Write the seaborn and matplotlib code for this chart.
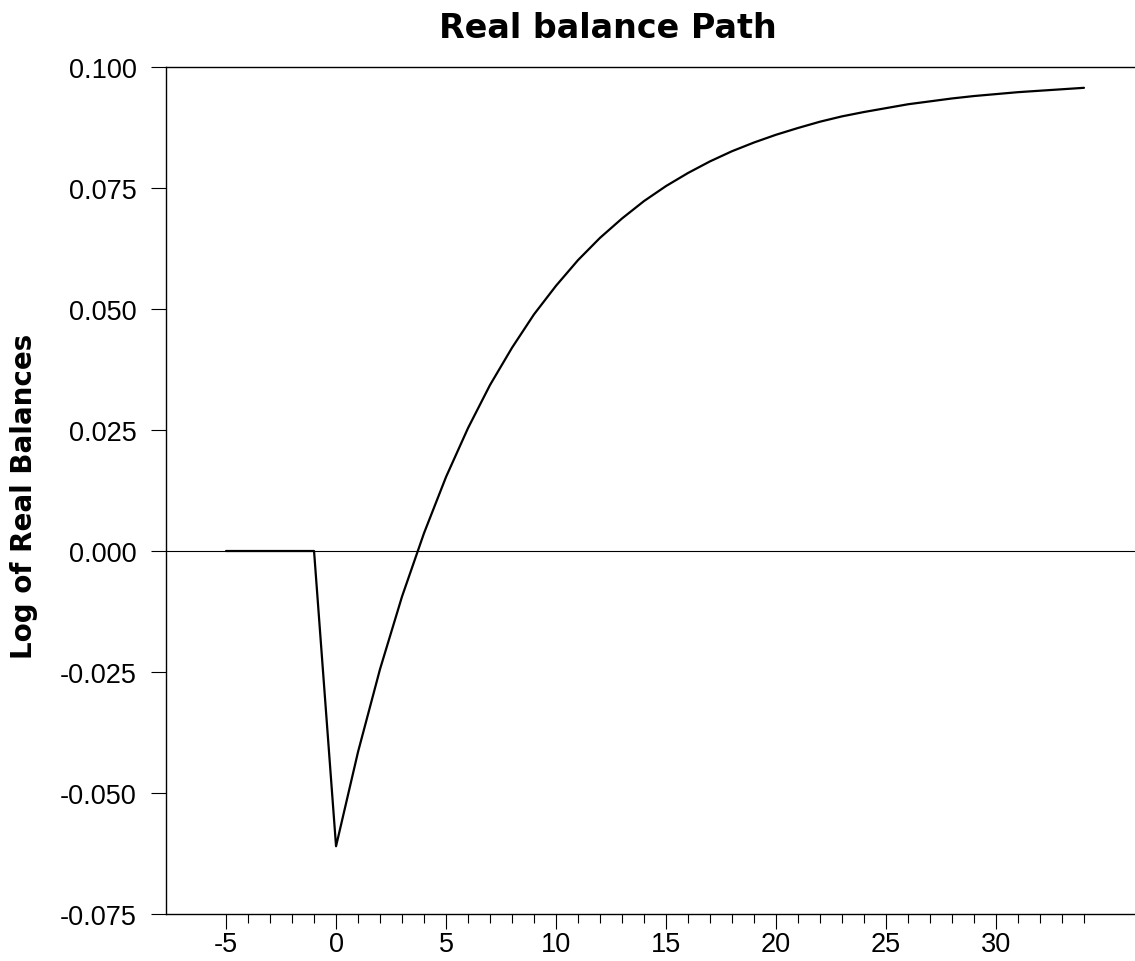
import matplotlib
matplotlib.use("Agg")
import matplotlib.pyplot as plt
import seaborn as sns
from matplotlib.ticker import FixedLocator

# periods relative to the shock, and the log of real balances
periods = list(range(-5, 35))
log_real_balances = [
    0.0, 0.0, 0.0, 0.0, 0.0,
    -0.0610, -0.0415, -0.0244, -0.0094, 0.0037, 0.0153, 0.0254, 0.0343, 0.0420, 0.0489,
    0.0548, 0.0601, 0.0647, 0.0687, 0.0723, 0.0754, 0.0781, 0.0805, 0.0826, 0.0844,
    0.0860, 0.0874, 0.0887, 0.0898, 0.0907, 0.0915, 0.0923, 0.0929, 0.0935, 0.0940,
    0.0944, 0.0948, 0.0951, 0.0954, 0.0957,
]
x_major_ticks = [-5, 0, 5, 10, 15, 20, 25, 30]
x_minor_ticks = list(range(-5, 35))
y_ticks = [-0.075, -0.050, -0.025, 0.000, 0.025, 0.050, 0.075, 0.100]

sns.set_theme(style="ticks")
plt.rcParams["font.family"] = ["Liberation Sans", "DejaVu Sans"]
plt.rcParams["text.color"] = "black"

W, H = 1135, 962
fig = plt.figure(figsize=(W / 100, H / 100), dpi=100)
ax = fig.add_axes([166 / W, 1 - 915 / H, (W - 166) / W, (915 - 68) / H])

ax.axhline(0, color="black", lw=0.8, zorder=1)
sns.lineplot(x=periods, y=log_real_balances, color="black", lw=1.6, ax=ax, zorder=3)

ax.set_xlim(-7.73, 36.32)
ax.set_ylim(-0.075, 0.100)
ax.xaxis.set_major_locator(FixedLocator(x_major_ticks))
ax.xaxis.set_minor_locator(FixedLocator(x_minor_ticks))
ax.set_xticklabels([str(v) for v in x_major_ticks])
ax.set_yticks(y_ticks)
ax.set_yticklabels([f"{v:.3f}" for v in y_ticks])

ax.tick_params(axis="x", which="major", length=11, width=0.8, pad=1.5,
               labelsize=19.5, color="black", labelcolor="black")
ax.tick_params(axis="x", which="minor", length=6.5, width=0.8, color="black")
ax.tick_params(axis="y", which="major", length=11, width=0.8, pad=10,
               labelsize=19.5, color="black", labelcolor="black")
for side in ["left", "bottom", "top"]:
    ax.spines[side].set_color("black")
    ax.spines[side].set_linewidth(1.0)
ax.spines["right"].set_visible(False)
ax.set_xlabel("")
ax.set_ylabel("")

fig.text(608 / W, 1 - 37.7 / H, "Real balance Path", ha="center", va="baseline",
         fontsize=24, fontweight="bold", color="black", family=["DejaVu Sans"])
fig.text(24 / W, 1 - 496 / H, "Log of Real Balances", rotation=90, ha="center",
         va="center", fontsize=20, fontweight="bold", color="black",
         family=["DejaVu Sans"])

fig.savefig("out.png", dpi=100)
